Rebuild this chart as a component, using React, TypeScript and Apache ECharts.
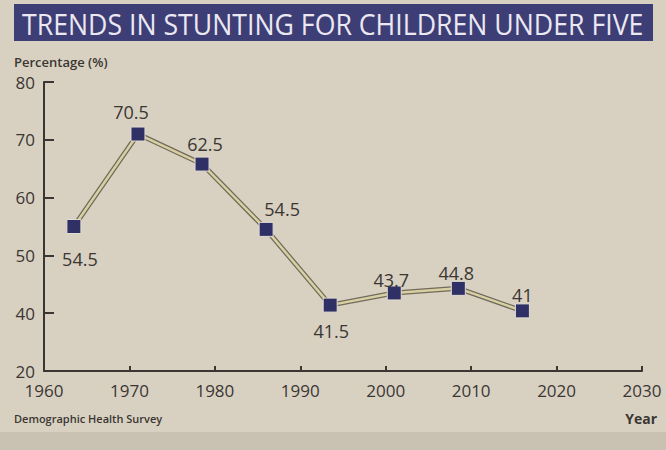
import React, { useEffect, useRef } from "react";
import * as echarts from "echarts";

const years = [1963.5, 1971, 1978.5, 1986, 1993.5, 2001, 2008.5, 2016];
const plotted = [55, 71, 65.8, 54.5, 41.4, 43.5, 44.3, 40.4];
const printed = ["54.5", "70.5", "62.5", "54.5", "41.5", "43.7", "44.8", "41"];
const labelOffsets: [number, number][] = [
  [6, 32], [-7, -22], [3, -20], [16, -20], [1, 26], [-3, -13], [-2, -15], [0, -16],
];
const yTicks = [30, 40, 50, 60, 70, 80];
const yTickText: Record<number, string> = { 30: "20", 40: "40", 50: "50", 60: "60", 70: "70", 80: "80" };
const xTicks = [1960, 1970, 1980, 1990, 2000, 2010, 2020, 2030];

const TITLE = "TRENDS IN STUNTING FOR CHILDREN UNDER FIVE";
const INK = "#3b3632";
const FONT = "'Open Sans', 'Noto Sans', sans-serif";

export default function App() {
  const ref = useRef<HTMLDivElement>(null);
  useEffect(() => {
    if (!ref.current) return;
    const chart = echarts.init(ref.current, null, { renderer: "svg" });
    const pts = years.map((y, i) => [y, plotted[i]]);
    chart.setOption({
      animation: false,
      backgroundColor: "#d8d1c2",
      grid: { left: 44, right: 24, top: 82, bottom: 79 },
      xAxis: {
        type: "value",
        min: xTicks[0],
        max: xTicks[xTicks.length - 1],
        interval: 10,
        axisLine: { lineStyle: { color: INK, width: 2 } },
        axisTick: { inside: true, length: 5, lineStyle: { color: INK, width: 2 } },
        axisLabel: {
          color: INK,
          fontSize: 17,
          fontFamily: FONT,
          margin: 12,
          lineHeight: 14,
          formatter: (v: number) => String(v),
        },
        splitLine: { show: false },
      },
      yAxis: {
        type: "value",
        min: yTicks[0],
        max: yTicks[yTicks.length - 1],
        interval: 10,
        axisLine: { show: true, lineStyle: { color: INK, width: 2 } },
        axisTick: { show: true, inside: true, length: 10, lineStyle: { color: INK, width: 2 } },
        axisLabel: {
          color: INK,
          fontSize: 17,
          fontFamily: FONT,
          margin: 9,
          lineHeight: 12,
          formatter: (v: number) => yTickText[v] ?? String(v),
        },
        splitLine: { show: false },
      },
      graphic: [
        { type: "rect", left: 0, top: 432, shape: { width: 666, height: 18 }, style: { fill: "#c9c2b3" }, z: -1 },
        { type: "rect", shape: { x: 14, y: 4, width: 639, height: 37 }, style: { fill: "#3d3e75" } },
        {
          type: "text",
          x: 22,
          y: 23,
          scaleX: 0.89,
          style: { text: TITLE, fill: "#ece8f2", font: `30px ${FONT}`, textVerticalAlign: "middle" },
        },
        {
          type: "text",
          x: 14,
          y: 62,
          style: { text: "Percentage (%)", fill: INK, font: `600 13px ${FONT}`, textVerticalAlign: "middle" },
        },
        {
          type: "text",
          x: 14,
          y: 418,
          style: { text: "Demographic Health Survey", fill: INK, font: `600 11px ${FONT}`, textVerticalAlign: "middle" },
        },
        {
          type: "text",
          x: 657,
          y: 418,
          style: { text: "Year", fill: INK, font: `bold 14px ${FONT}`, textAlign: "right", textVerticalAlign: "middle" },
        },
      ],
      series: [
        {
          type: "line",
          data: pts,
          symbol: "none",
          silent: true,
          lineStyle: { color: "#716b5c", width: 5 },
          z: 1,
        },
        {
          type: "line",
          data: pts.map((p, i) => ({
            value: p,
            label: {
              show: true,
              position: "inside",
              offset: labelOffsets[i],
              formatter: printed[i],
              color: INK,
              fontSize: 18,
              fontFamily: FONT,
            },
          })),
          symbol: "rect",
          symbolSize: 14,
          itemStyle: { color: "#2f3065", borderColor: "#e2ddd3", borderWidth: 1 },
          lineStyle: { color: "#d8cfa3", width: 2.5 },
          z: 2,
        },
      ],
    });
    return () => chart.dispose();
  }, []);
  return <div ref={ref} style={{ position: "absolute", left: 0, top: 0, width: 666, height: 450 }} />;
}
